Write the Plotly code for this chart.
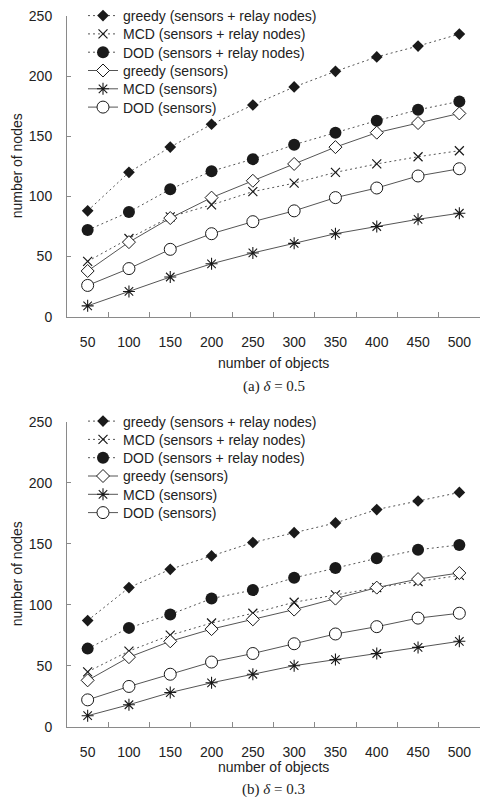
import plotly.graph_objects as go

W, H = 483, 797

objects = ["50", "100", "150", "200", "250", "300", "350", "400", "450", "500"]
y_ticks = [0, 50, 100, 150, 200, 250]

series_names = [
    "greedy (sensors + relay nodes)",
    "MCD (sensors + relay nodes)",
    "DOD (sensors + relay nodes)",
    "greedy (sensors)",
    "MCD (sensors)",
    "DOD (sensors)",
]

# (a) delta = 0.5
a_greedy_sr = [88, 120, 141, 160, 176, 191, 204, 216, 225, 235]
a_mcd_sr = [46, 65, 83, 93, 104, 111, 120, 127, 133, 138]
a_dod_sr = [72, 87, 106, 121, 131, 143, 153, 163, 172, 179]
a_greedy_s = [38, 62, 82, 99, 113, 127, 141, 153, 161, 169]
a_mcd_s = [9, 21, 33, 44, 53, 61, 69, 75, 81, 86]
a_dod_s = [26, 40, 56, 69, 79, 88, 99, 107, 117, 123]

# (b) delta = 0.3
b_greedy_sr = [87, 114, 129, 140, 151, 159, 167, 178, 185, 192]
b_mcd_sr = [45, 62, 75, 85, 93, 102, 108, 114, 119, 124]
b_dod_sr = [64, 81, 92, 105, 112, 122, 130, 138, 145, 149]
b_greedy_s = [38, 57, 70, 80, 88, 96, 105, 114, 121, 126]
b_mcd_s = [9, 18, 28, 36, 43, 50, 55, 60, 65, 70]
b_dod_s = [22, 33, 43, 53, 60, 68, 76, 82, 89, 93]

LINE = "#555555"
MK = "#1a1a1a"
AX = "#8a8a8a"
TXT = "#222222"
FONT = "Liberation Sans, Arial, sans-serif"

styles = [
    dict(dash="2px,3px", symbol="diamond", size=9, color=MK, lcolor=MK, lw=0),
    dict(dash="2px,3px", symbol="x-thin-open", size=9, color=MK, lcolor=MK, lw=1.2),
    dict(dash="2px,3px", symbol="circle", size=12, color=MK, lcolor=MK, lw=0),
    dict(dash="solid", symbol="diamond", size=10, color="white", lcolor=MK, lw=1),
    dict(dash="solid", symbol="asterisk-open", size=10, color=MK, lcolor=MK, lw=1.1),
    dict(dash="solid", symbol="circle", size=12, color="white", lcolor=MK, lw=1),
]

fig = go.Figure()
legends = {}

def legend_box(ypix):
    return dict(x=83 / W, xanchor="left", y=1 - ypix / H, yanchor="middle",
                bgcolor="rgba(0,0,0,0)", borderwidth=0,
                font=dict(family=FONT, size=14, color=TXT),
                itemsizing="trace")

def add_panel(data, xa, ya, first_legend, top_pix):
    for i, (name, vals, st) in enumerate(zip(series_names, data, styles)):
        idx = first_legend + i
        lname = "legend" if idx == 1 else f"legend{idx}"
        legends[lname] = legend_box(top_pix + 18.3 * i)
        fig.add_trace(go.Scatter(
            x=objects, y=vals, name=name, mode="lines+markers",
            xaxis=xa, yaxis=ya, legend=lname,
            line=dict(color=LINE, width=1, dash=st["dash"]),
            marker=dict(symbol=st["symbol"], size=st["size"], color=st["color"],
                        line=dict(color=st["lcolor"], width=st["lw"])),
        ))

add_panel([a_greedy_sr, a_mcd_sr, a_dod_sr, a_greedy_s, a_mcd_s, a_dod_s], "x", "y", 1, 16)
add_panel([b_greedy_sr, b_mcd_sr, b_dod_sr, b_greedy_s, b_mcd_s, b_dod_s], "x2", "y2", 7, 421.5)

xdom = [67 / W, 480 / W]
top_dom = [1 - 316.7 / H, 1 - 16 / H]
bot_dom = [1 - 726.7 / H, 1 - 421.7 / H]

def xaxis(anchor):
    return dict(domain=xdom, anchor=anchor, type="category", categoryorder="array",
                categoryarray=objects, range=[-0.5, 9.5], tickson="boundaries",
                ticks="inside", ticklen=5, tickcolor=AX, tickwidth=1,
                showline=True, linecolor=AX, linewidth=1, showgrid=False,
                zeroline=False, ticklabelstandoff=12, automargin=False,
                tickfont=dict(family=FONT, size=14, color=TXT))

def yaxis(dom, anchor):
    return dict(domain=dom, anchor=anchor, range=[0, 250], tickvals=y_ticks,
                ticks="inside", ticklen=4, tickcolor=AX, tickwidth=1,
                showline=True, linecolor=AX, linewidth=1, showgrid=False,
                zeroline=False, ticklabelstandoff=11, automargin=False,
                tickfont=dict(family=FONT, size=14, color=TXT))

annotations = []
for ya, tshift, cshift, cap in [("y", -46, -70, "(a) <i>δ</i> = 0.5"),
                                ("y2", -40, -63, "(b) <i>δ</i> = 0.3")]:
    xr = "x domain" if ya == "y" else "x2 domain"
    yr = ya + " domain"
    annotations.append(dict(text="number of objects", xref=xr, yref=yr, x=0.5, y=0,
                            xanchor="center", yanchor="middle", yshift=tshift,
                            showarrow=False, font=dict(family=FONT, size=14, color=TXT)))
    annotations.append(dict(text=cap, xref=xr, yref=yr, x=0.5, y=0,
                            xanchor="center", yanchor="middle", yshift=cshift,
                            showarrow=False,
                            font=dict(family="Liberation Serif, Times New Roman, serif", size=15, color=TXT)))
    annotations.append(dict(text="number of nodes", xref="paper", yref=yr, x=17 / W, y=0.5,
                            xanchor="center", yanchor="middle", textangle=-90,
                            showarrow=False, font=dict(family=FONT, size=14, color=TXT)))

fig.update_layout(
    width=W, height=H, margin=dict(l=0, r=0, t=0, b=0, autoexpand=False),
    paper_bgcolor="white", plot_bgcolor="white",
    xaxis=xaxis("y"), yaxis=yaxis(top_dom, "x"),
    xaxis2=xaxis("y2"), yaxis2=yaxis(bot_dom, "x2"),
    annotations=annotations, showlegend=True,
    **legends,
)

fig.write_html("out.html")
